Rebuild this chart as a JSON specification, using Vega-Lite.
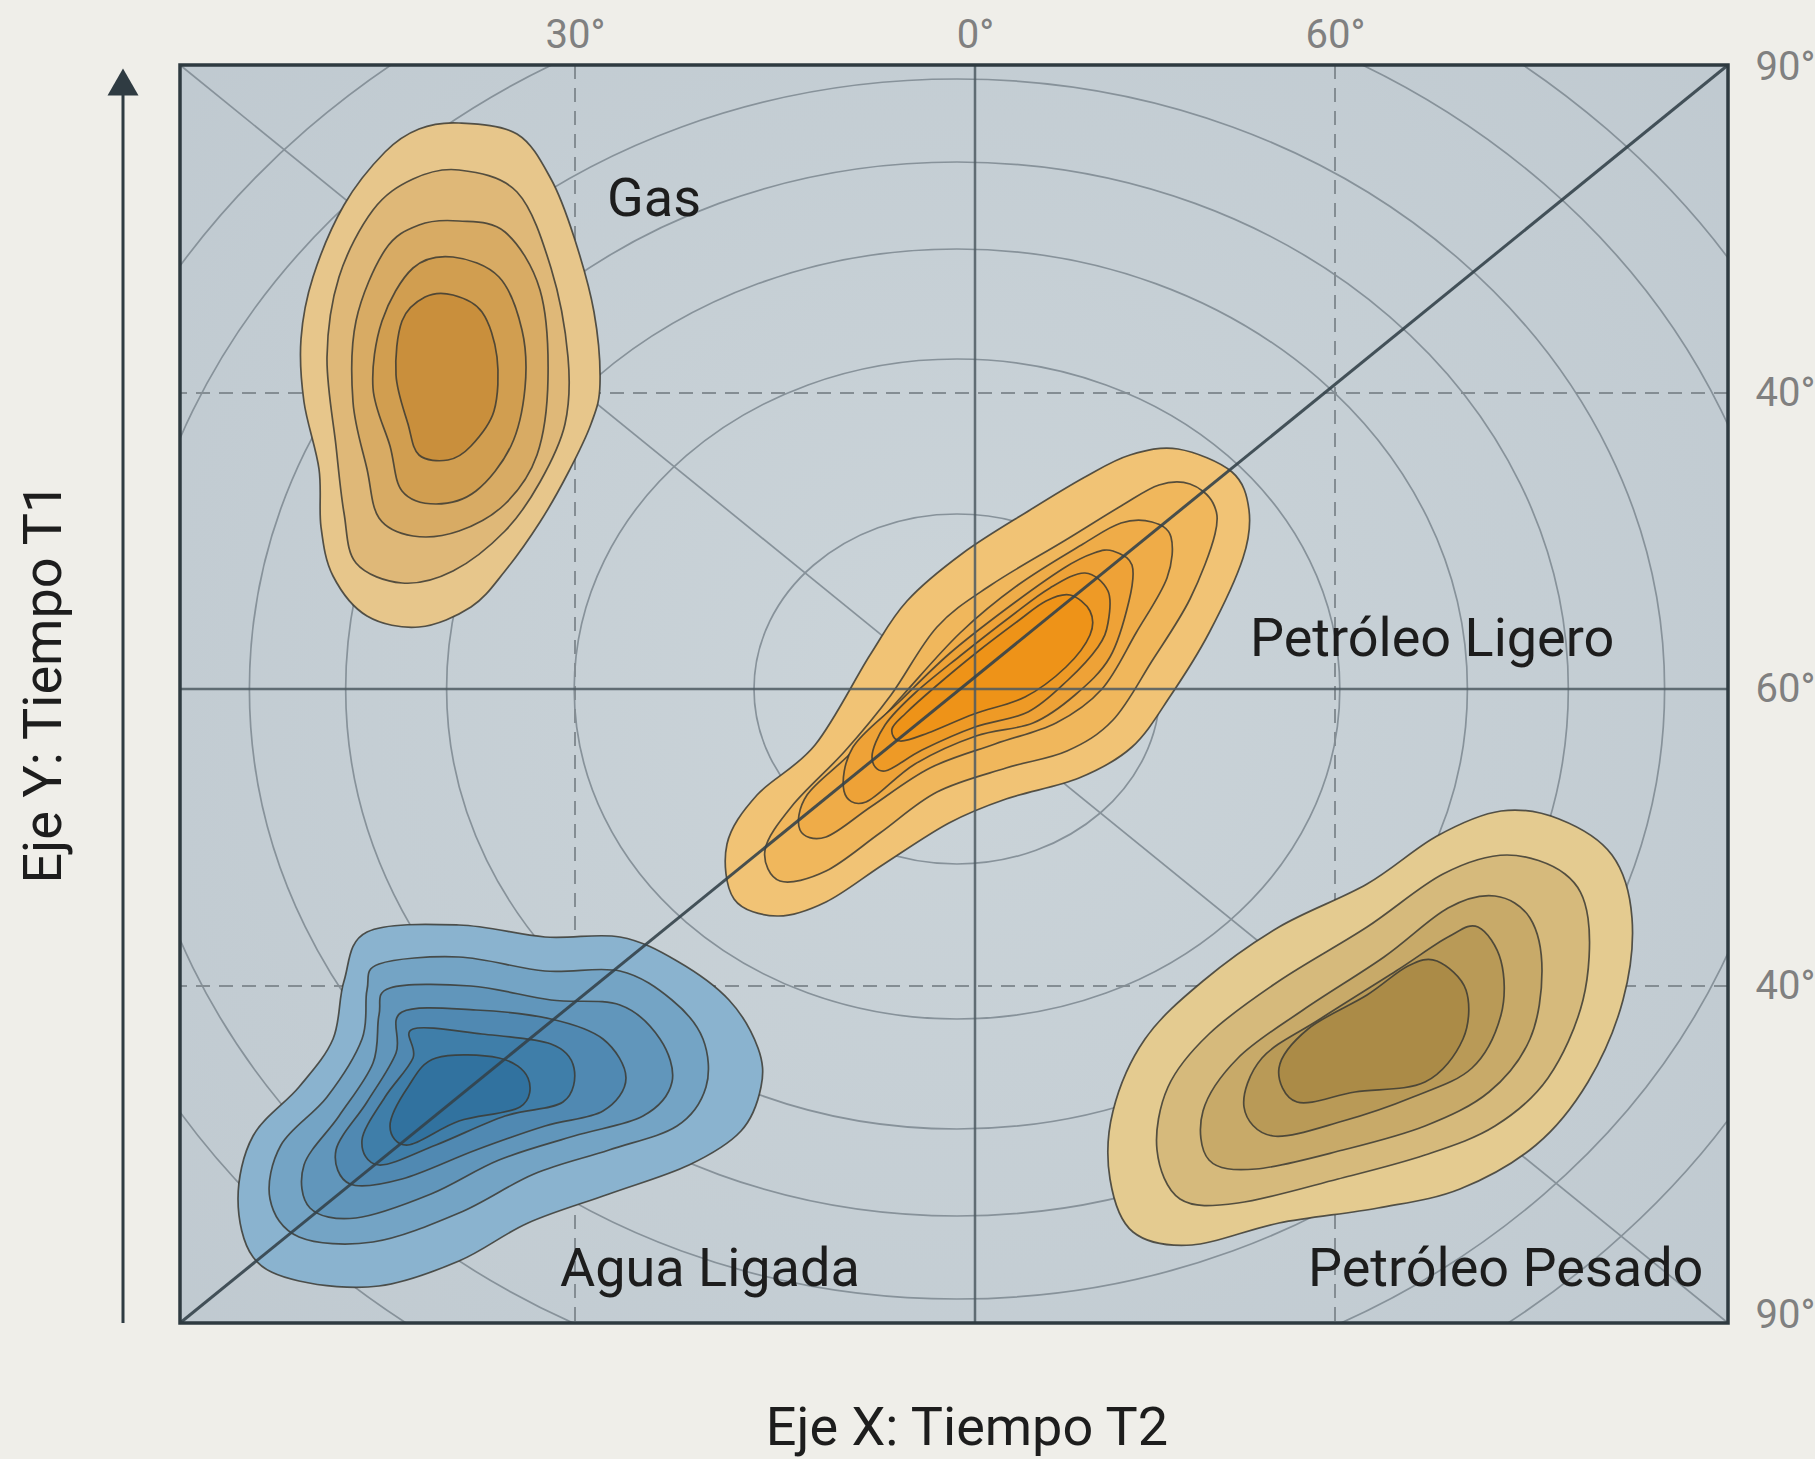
{
  "$schema": "https://vega.github.io/schema/vega-lite/v6.json",
  "width": 1548,
  "height": 1258,
  "autosize": {"type": "none"},
  "padding": {"left": 180, "top": 65, "right": 87, "bottom": 136},
  "background": "#efeee9",
  "config": {"view": {"stroke": null}, "font": "Roboto"},
  "datasets": {
    "elipses": [{"r": 175}, {"r": 330}, {"r": 440}, {"r": 527}, {"r": 610}, {"r": 715}, {"r": 792}],
    "contornos": [
      {"capa":"Gas 1","i":1,"x":279,"y":1200},{"capa":"Gas 1","i":2,"x":337,"y":1189},{"capa":"Gas 1","i":3,"x":371,"y":1144},{"capa":"Gas 1","i":4,"x":394,"y":1086},{"capa":"Gas 1","i":5,"x":414,"y":1011},{"capa":"Gas 1","i":6,"x":420,"y":939},{"capa":"Gas 1","i":7,"x":411,"y":899},{"capa":"Gas 1","i":8,"x":388,"y":850},{"capa":"Gas 1","i":9,"x":360,"y":801},{"capa":"Gas 1","i":10,"x":325,"y":752},{"capa":"Gas 1","i":11,"x":291,"y":716},{"capa":"Gas 1","i":12,"x":239,"y":696},{"capa":"Gas 1","i":13,"x":187,"y":707},{"capa":"Gas 1","i":14,"x":153,"y":747},{"capa":"Gas 1","i":15,"x":141,"y":796},{"capa":"Gas 1","i":16,"x":139,"y":854},{"capa":"Gas 1","i":17,"x":124,"y":921},{"capa":"Gas 1","i":18,"x":121,"y":984},{"capa":"Gas 1","i":19,"x":133,"y":1046},{"capa":"Gas 1","i":20,"x":164,"y":1118},{"capa":"Gas 1","i":21,"x":205,"y":1171},{"capa":"Gas 1","i":22,"x":239,"y":1194},
      {"capa":"Gas 2","i":1,"x":279,"y":1153},{"capa":"Gas 2","i":2,"x":337,"y":1131},{"capa":"Gas 2","i":3,"x":371,"y":1055},{"capa":"Gas 2","i":4,"x":388,"y":966},{"capa":"Gas 2","i":5,"x":385,"y":899},{"capa":"Gas 2","i":6,"x":360,"y":841},{"capa":"Gas 2","i":7,"x":325,"y":792},{"capa":"Gas 2","i":8,"x":273,"y":752},{"capa":"Gas 2","i":9,"x":222,"y":740},{"capa":"Gas 2","i":10,"x":176,"y":760},{"capa":"Gas 2","i":11,"x":164,"y":810},{"capa":"Gas 2","i":12,"x":156,"y":877},{"capa":"Gas 2","i":13,"x":147,"y":966},{"capa":"Gas 2","i":14,"x":159,"y":1046},{"capa":"Gas 2","i":15,"x":193,"y":1113},{"capa":"Gas 2","i":16,"x":233,"y":1144},
      {"capa":"Gas 3","i":1,"x":279,"y":1102},{"capa":"Gas 3","i":2,"x":325,"y":1091},{"capa":"Gas 3","i":3,"x":360,"y":1033},{"capa":"Gas 3","i":4,"x":368,"y":944},{"capa":"Gas 3","i":5,"x":357,"y":868},{"capa":"Gas 3","i":6,"x":325,"y":819},{"capa":"Gas 3","i":7,"x":279,"y":792},{"capa":"Gas 3","i":8,"x":233,"y":787},{"capa":"Gas 3","i":9,"x":199,"y":805},{"capa":"Gas 3","i":10,"x":187,"y":854},{"capa":"Gas 3","i":11,"x":173,"y":921},{"capa":"Gas 3","i":12,"x":176,"y":1002},{"capa":"Gas 3","i":13,"x":205,"y":1073},{"capa":"Gas 3","i":14,"x":239,"y":1098},
      {"capa":"Gas 4","i":1,"x":273,"y":1066},{"capa":"Gas 4","i":2,"x":319,"y":1046},{"capa":"Gas 4","i":3,"x":342,"y":993},{"capa":"Gas 4","i":4,"x":345,"y":935},{"capa":"Gas 4","i":5,"x":331,"y":877},{"capa":"Gas 4","i":6,"x":296,"y":832},{"capa":"Gas 4","i":7,"x":256,"y":819},{"capa":"Gas 4","i":8,"x":222,"y":832},{"capa":"Gas 4","i":9,"x":210,"y":877},{"capa":"Gas 4","i":10,"x":193,"y":935},{"capa":"Gas 4","i":11,"x":202,"y":1002},{"capa":"Gas 4","i":12,"x":233,"y":1055},
      {"capa":"Gas 5","i":1,"x":273,"y":1028},{"capa":"Gas 5","i":2,"x":302,"y":1011},{"capa":"Gas 5","i":3,"x":317,"y":966},{"capa":"Gas 5","i":4,"x":314,"y":912},{"capa":"Gas 5","i":5,"x":291,"y":877},{"capa":"Gas 5","i":6,"x":268,"y":863},{"capa":"Gas 5","i":7,"x":239,"y":868},{"capa":"Gas 5","i":8,"x":228,"y":899},{"capa":"Gas 5","i":9,"x":216,"y":948},{"capa":"Gas 5","i":10,"x":222,"y":1002},{"capa":"Gas 5","i":11,"x":245,"y":1026},
      {"capa":"Ligero 1","i":1,"x":998,"y":874},{"capa":"Ligero 1","i":2,"x":1052,"y":851},{"capa":"Ligero 1","i":3,"x":1069,"y":813},{"capa":"Ligero 1","i":4,"x":1063,"y":765},{"capa":"Ligero 1","i":5,"x":1029,"y":690},{"capa":"Ligero 1","i":6,"x":991,"y":628},{"capa":"Ligero 1","i":7,"x":952,"y":576},{"capa":"Ligero 1","i":8,"x":899,"y":545},{"capa":"Ligero 1","i":9,"x":826,"y":524},{"capa":"Ligero 1","i":10,"x":769,"y":500},{"capa":"Ligero 1","i":11,"x":704,"y":459},{"capa":"Ligero 1","i":12,"x":646,"y":421},{"capa":"Ligero 1","i":13,"x":597,"y":407},{"capa":"Ligero 1","i":14,"x":554,"y":424},{"capa":"Ligero 1","i":15,"x":547,"y":479},{"capa":"Ligero 1","i":16,"x":577,"y":528},{"capa":"Ligero 1","i":17,"x":635,"y":578},{"capa":"Ligero 1","i":18,"x":690,"y":668},{"capa":"Ligero 1","i":19,"x":727,"y":722},{"capa":"Ligero 1","i":20,"x":783,"y":770},{"capa":"Ligero 1","i":21,"x":850,"y":813},{"capa":"Ligero 1","i":22,"x":905,"y":846},{"capa":"Ligero 1","i":23,"x":950,"y":868},
      {"capa":"Ligero 2","i":1,"x":1010,"y":839},{"capa":"Ligero 2","i":2,"x":1033,"y":820},{"capa":"Ligero 2","i":3,"x":1035,"y":789},{"capa":"Ligero 2","i":4,"x":1010,"y":724},{"capa":"Ligero 2","i":5,"x":972,"y":662},{"capa":"Ligero 2","i":6,"x":933,"y":603},{"capa":"Ligero 2","i":7,"x":887,"y":572},{"capa":"Ligero 2","i":8,"x":826,"y":555},{"capa":"Ligero 2","i":9,"x":757,"y":531},{"capa":"Ligero 2","i":10,"x":700,"y":490},{"capa":"Ligero 2","i":11,"x":646,"y":452},{"capa":"Ligero 2","i":12,"x":600,"y":442},{"capa":"Ligero 2","i":13,"x":585,"y":473},{"capa":"Ligero 2","i":14,"x":612,"y":517},{"capa":"Ligero 2","i":15,"x":665,"y":572},{"capa":"Ligero 2","i":16,"x":711,"y":628},{"capa":"Ligero 2","i":17,"x":757,"y":696},{"capa":"Ligero 2","i":18,"x":811,"y":738},{"capa":"Ligero 2","i":19,"x":884,"y":782},{"capa":"Ligero 2","i":20,"x":941,"y":817},{"capa":"Ligero 2","i":21,"x":979,"y":838},
      {"capa":"Ligero 3","i":1,"x":972,"y":801},{"capa":"Ligero 3","i":2,"x":991,"y":786},{"capa":"Ligero 3","i":3,"x":987,"y":745},{"capa":"Ligero 3","i":4,"x":956,"y":690},{"capa":"Ligero 3","i":5,"x":922,"y":634},{"capa":"Ligero 3","i":6,"x":876,"y":600},{"capa":"Ligero 3","i":7,"x":815,"y":579},{"capa":"Ligero 3","i":8,"x":750,"y":555},{"capa":"Ligero 3","i":9,"x":692,"y":517},{"capa":"Ligero 3","i":10,"x":646,"y":486},{"capa":"Ligero 3","i":11,"x":620,"y":493},{"capa":"Ligero 3","i":12,"x":627,"y":528},{"capa":"Ligero 3","i":13,"x":673,"y":572},{"capa":"Ligero 3","i":14,"x":723,"y":628},{"capa":"Ligero 3","i":15,"x":780,"y":690},{"capa":"Ligero 3","i":16,"x":838,"y":738},{"capa":"Ligero 3","i":17,"x":903,"y":779},{"capa":"Ligero 3","i":18,"x":941,"y":800},
      {"capa":"Ligero 4","i":1,"x":933,"y":772},{"capa":"Ligero 4","i":2,"x":952,"y":758},{"capa":"Ligero 4","i":3,"x":949,"y":722},{"capa":"Ligero 4","i":4,"x":930,"y":666},{"capa":"Ligero 4","i":5,"x":895,"y":628},{"capa":"Ligero 4","i":6,"x":853,"y":600},{"capa":"Ligero 4","i":7,"x":796,"y":587},{"capa":"Ligero 4","i":8,"x":735,"y":559},{"capa":"Ligero 4","i":9,"x":686,"y":521},{"capa":"Ligero 4","i":10,"x":664,"y":532},{"capa":"Ligero 4","i":11,"x":673,"y":576},{"capa":"Ligero 4","i":12,"x":719,"y":621},{"capa":"Ligero 4","i":13,"x":769,"y":669},{"capa":"Ligero 4","i":14,"x":826,"y":714},{"capa":"Ligero 4","i":15,"x":884,"y":755},{"capa":"Ligero 4","i":16,"x":914,"y":770},
      {"capa":"Ligero 5","i":1,"x":905,"y":750},{"capa":"Ligero 5","i":2,"x":928,"y":732},{"capa":"Ligero 5","i":3,"x":928,"y":700},{"capa":"Ligero 5","i":4,"x":918,"y":676},{"capa":"Ligero 5","i":5,"x":888,"y":643},{"capa":"Ligero 5","i":6,"x":848,"y":611},{"capa":"Ligero 5","i":7,"x":795,"y":596},{"capa":"Ligero 5","i":8,"x":742,"y":573},{"capa":"Ligero 5","i":9,"x":705,"y":552},{"capa":"Ligero 5","i":10,"x":692,"y":566},{"capa":"Ligero 5","i":11,"x":705,"y":598},{"capa":"Ligero 5","i":12,"x":735,"y":630},{"capa":"Ligero 5","i":13,"x":780,"y":667},{"capa":"Ligero 5","i":14,"x":830,"y":706},{"capa":"Ligero 5","i":15,"x":870,"y":735},
      {"capa":"Ligero 6","i":1,"x":890,"y":728},{"capa":"Ligero 6","i":2,"x":910,"y":712},{"capa":"Ligero 6","i":3,"x":910,"y":688},{"capa":"Ligero 6","i":4,"x":886,"y":656},{"capa":"Ligero 6","i":5,"x":845,"y":626},{"capa":"Ligero 6","i":6,"x":794,"y":609},{"capa":"Ligero 6","i":7,"x":748,"y":590},{"capa":"Ligero 6","i":8,"x":720,"y":582},{"capa":"Ligero 6","i":9,"x":712,"y":594},{"capa":"Ligero 6","i":10,"x":726,"y":610},{"capa":"Ligero 6","i":11,"x":755,"y":636},{"capa":"Ligero 6","i":12,"x":796,"y":670},{"capa":"Ligero 6","i":13,"x":838,"y":702},{"capa":"Ligero 6","i":14,"x":866,"y":722},
      {"capa":"Agua 1","i":1,"x":187,"y":391},{"capa":"Agua 1","i":2,"x":279,"y":398},{"capa":"Agua 1","i":3,"x":365,"y":386},{"capa":"Agua 1","i":4,"x":440,"y":386},{"capa":"Agua 1","i":5,"x":497,"y":362},{"capa":"Agua 1","i":6,"x":549,"y":323},{"capa":"Agua 1","i":7,"x":578,"y":275},{"capa":"Agua 1","i":8,"x":581,"y":236},{"capa":"Agua 1","i":9,"x":561,"y":192},{"capa":"Agua 1","i":10,"x":509,"y":158},{"capa":"Agua 1","i":11,"x":429,"y":129},{"capa":"Agua 1","i":12,"x":348,"y":100},{"capa":"Agua 1","i":13,"x":279,"y":62},{"capa":"Agua 1","i":14,"x":199,"y":37},{"capa":"Agua 1","i":15,"x":119,"y":42},{"capa":"Agua 1","i":16,"x":73,"y":66},{"capa":"Agua 1","i":17,"x":58,"y":124},{"capa":"Agua 1","i":18,"x":73,"y":187},{"capa":"Agua 1","i":19,"x":119,"y":236},{"capa":"Agua 1","i":20,"x":153,"y":284},{"capa":"Agua 1","i":21,"x":164,"y":342},
      {"capa":"Agua 2","i":1,"x":199,"y":359},{"capa":"Agua 2","i":2,"x":279,"y":366},{"capa":"Agua 2","i":3,"x":365,"y":352},{"capa":"Agua 2","i":4,"x":440,"y":352},{"capa":"Agua 2","i":5,"x":492,"y":323},{"capa":"Agua 2","i":6,"x":523,"y":284},{"capa":"Agua 2","i":7,"x":526,"y":236},{"capa":"Agua 2","i":8,"x":497,"y":197},{"capa":"Agua 2","i":9,"x":429,"y":173},{"capa":"Agua 2","i":10,"x":354,"y":149},{"capa":"Agua 2","i":11,"x":279,"y":110},{"capa":"Agua 2","i":12,"x":193,"y":81},{"capa":"Agua 2","i":13,"x":119,"y":86},{"capa":"Agua 2","i":14,"x":90,"y":124},{"capa":"Agua 2","i":15,"x":101,"y":178},{"capa":"Agua 2","i":16,"x":147,"y":226},{"capa":"Agua 2","i":17,"x":182,"y":284},{"capa":"Agua 2","i":18,"x":187,"y":333},
      {"capa":"Agua 3","i":1,"x":210,"y":335},{"capa":"Agua 3","i":2,"x":291,"y":337},{"capa":"Agua 3","i":3,"x":371,"y":323},{"capa":"Agua 3","i":4,"x":440,"y":318},{"capa":"Agua 3","i":5,"x":480,"y":284},{"capa":"Agua 3","i":6,"x":492,"y":241},{"capa":"Agua 3","i":7,"x":463,"y":207},{"capa":"Agua 3","i":8,"x":394,"y":187},{"capa":"Agua 3","i":9,"x":319,"y":163},{"capa":"Agua 3","i":10,"x":251,"y":129},{"capa":"Agua 3","i":11,"x":176,"y":105},{"capa":"Agua 3","i":12,"x":130,"y":115},{"capa":"Agua 3","i":13,"x":124,"y":158},{"capa":"Agua 3","i":14,"x":159,"y":207},{"capa":"Agua 3","i":15,"x":193,"y":260},{"capa":"Agua 3","i":16,"x":199,"y":308},
      {"capa":"Agua 4","i":1,"x":222,"y":311},{"capa":"Agua 4","i":2,"x":296,"y":313},{"capa":"Agua 4","i":3,"x":371,"y":304},{"capa":"Agua 4","i":4,"x":423,"y":284},{"capa":"Agua 4","i":5,"x":446,"y":245},{"capa":"Agua 4","i":6,"x":423,"y":212},{"capa":"Agua 4","i":7,"x":365,"y":197},{"capa":"Agua 4","i":8,"x":296,"y":173},{"capa":"Agua 4","i":9,"x":222,"y":144},{"capa":"Agua 4","i":10,"x":170,"y":139},{"capa":"Agua 4","i":11,"x":156,"y":173},{"capa":"Agua 4","i":12,"x":187,"y":221},{"capa":"Agua 4","i":13,"x":216,"y":270},
      {"capa":"Agua 5","i":1,"x":233,"y":294},{"capa":"Agua 5","i":2,"x":302,"y":289},{"capa":"Agua 5","i":3,"x":371,"y":279},{"capa":"Agua 5","i":4,"x":394,"y":255},{"capa":"Agua 5","i":5,"x":383,"y":221},{"capa":"Agua 5","i":6,"x":325,"y":207},{"capa":"Agua 5","i":7,"x":256,"y":178},{"capa":"Agua 5","i":8,"x":199,"y":158},{"capa":"Agua 5","i":9,"x":182,"y":183},{"capa":"Agua 5","i":10,"x":205,"y":226},{"capa":"Agua 5","i":11,"x":233,"y":265},
      {"capa":"Agua 6","i":1,"x":256,"y":265},{"capa":"Agua 6","i":2,"x":319,"y":265},{"capa":"Agua 6","i":3,"x":348,"y":245},{"capa":"Agua 6","i":4,"x":340,"y":216},{"capa":"Agua 6","i":5,"x":279,"y":202},{"capa":"Agua 6","i":6,"x":228,"y":178},{"capa":"Agua 6","i":7,"x":210,"y":197},{"capa":"Agua 6","i":8,"x":228,"y":236},
      {"capa":"Pesado 1","i":1,"x":1321,"y":512},{"capa":"Pesado 1","i":2,"x":1379,"y":504},{"capa":"Pesado 1","i":3,"x":1432,"y":468},{"capa":"Pesado 1","i":4,"x":1452,"y":405},{"capa":"Pesado 1","i":5,"x":1443,"y":323},{"capa":"Pesado 1","i":6,"x":1408,"y":241},{"capa":"Pesado 1","i":7,"x":1356,"y":178},{"capa":"Pesado 1","i":8,"x":1280,"y":134},{"capa":"Pesado 1","i":9,"x":1198,"y":115},{"capa":"Pesado 1","i":10,"x":1099,"y":100},{"capa":"Pesado 1","i":11,"x":1012,"y":78},{"capa":"Pesado 1","i":12,"x":953,"y":91},{"capa":"Pesado 1","i":13,"x":930,"y":144},{"capa":"Pesado 1","i":14,"x":933,"y":212},{"capa":"Pesado 1","i":15,"x":965,"y":284},{"capa":"Pesado 1","i":16,"x":1023,"y":342},{"capa":"Pesado 1","i":17,"x":1099,"y":396},{"capa":"Pesado 1","i":18,"x":1187,"y":439},{"capa":"Pesado 1","i":19,"x":1257,"y":487},
      {"capa":"Pesado 2","i":1,"x":1327,"y":468},{"capa":"Pesado 2","i":2,"x":1385,"y":449},{"capa":"Pesado 2","i":3,"x":1408,"y":405},{"capa":"Pesado 2","i":4,"x":1403,"y":323},{"capa":"Pesado 2","i":5,"x":1368,"y":245},{"capa":"Pesado 2","i":6,"x":1315,"y":197},{"capa":"Pesado 2","i":7,"x":1245,"y":168},{"capa":"Pesado 2","i":8,"x":1158,"y":144},{"capa":"Pesado 2","i":9,"x":1058,"y":120},{"capa":"Pesado 2","i":10,"x":1000,"y":124},{"capa":"Pesado 2","i":11,"x":977,"y":173},{"capa":"Pesado 2","i":12,"x":988,"y":236},{"capa":"Pesado 2","i":13,"x":1029,"y":289},{"capa":"Pesado 2","i":14,"x":1099,"y":342},{"capa":"Pesado 2","i":15,"x":1187,"y":396},{"capa":"Pesado 2","i":16,"x":1263,"y":449},
      {"capa":"Pesado 3","i":1,"x":1315,"y":427},{"capa":"Pesado 3","i":2,"x":1350,"y":405},{"capa":"Pesado 3","i":3,"x":1362,"y":352},{"capa":"Pesado 3","i":4,"x":1350,"y":284},{"capa":"Pesado 3","i":5,"x":1309,"y":231},{"capa":"Pesado 3","i":6,"x":1245,"y":197},{"capa":"Pesado 3","i":7,"x":1163,"y":173},{"capa":"Pesado 3","i":8,"x":1076,"y":154},{"capa":"Pesado 3","i":9,"x":1029,"y":163},{"capa":"Pesado 3","i":10,"x":1023,"y":212},{"capa":"Pesado 3","i":11,"x":1058,"y":265},{"capa":"Pesado 3","i":12,"x":1123,"y":313},{"capa":"Pesado 3","i":13,"x":1204,"y":366},{"capa":"Pesado 3","i":14,"x":1268,"y":415},
      {"capa":"Pesado 4","i":1,"x":1298,"y":396},{"capa":"Pesado 4","i":2,"x":1321,"y":362},{"capa":"Pesado 4","i":3,"x":1321,"y":308},{"capa":"Pesado 4","i":4,"x":1292,"y":255},{"capa":"Pesado 4","i":5,"x":1233,"y":226},{"capa":"Pesado 4","i":6,"x":1163,"y":202},{"capa":"Pesado 4","i":7,"x":1093,"y":187},{"capa":"Pesado 4","i":8,"x":1064,"y":216},{"capa":"Pesado 4","i":9,"x":1082,"y":265},{"capa":"Pesado 4","i":10,"x":1140,"y":304},{"capa":"Pesado 4","i":11,"x":1216,"y":352},{"capa":"Pesado 4","i":12,"x":1268,"y":386},
      {"capa":"Pesado 5","i":1,"x":1257,"y":362},{"capa":"Pesado 5","i":2,"x":1286,"y":333},{"capa":"Pesado 5","i":3,"x":1283,"y":284},{"capa":"Pesado 5","i":4,"x":1245,"y":241},{"capa":"Pesado 5","i":5,"x":1175,"y":231},{"capa":"Pesado 5","i":6,"x":1117,"y":221},{"capa":"Pesado 5","i":7,"x":1099,"y":255},{"capa":"Pesado 5","i":8,"x":1128,"y":294},{"capa":"Pesado 5","i":9,"x":1187,"y":328},{"capa":"Pesado 5","i":10,"x":1228,"y":357}
    ]
  },
  "layer": [
    {
      "data": {"values": [{}]},
      "mark": {"type": "rect", "fill": {"gradient": "radial", "x1": 0.5, "y1": 0.5, "r1": 0, "x2": 0.5, "y2": 0.5, "r2": 0.75, "stops": [{"offset": 0, "color": "#cbd4d9"}, {"offset": 1, "color": "#bec8cf"}]}},
      "encoding": {
        "x": {"datum": 0, "type": "quantitative", "title": null, "scale": {"domain": [0, 1548], "nice": false, "zero": false},
              "axis": {"orient": "top", "values": [395, 795, 1155], "labelExpr": "datum.value == 395 ? '30°' : datum.value == 795 ? '0°' : '60°'", "ticks": false, "domain": false, "grid": false, "labelFontSize": 40, "labelColor": "#808080", "labelFont": "Roboto", "labelPadding": 10, "labelFlush": false, "labelOverlap": false, "title": null}},
        "x2": {"datum": 1548},
        "y": {"datum": 0, "type": "quantitative", "title": null, "scale": {"domain": [0, 1258], "nice": false, "zero": false},
              "axis": {"orient": "right", "values": [1256, 930, 634, 337, 8], "labelExpr": "datum.value == 634 ? '60°' : (datum.value == 930 || datum.value == 337) ? '40°' : '90°'", "ticks": false, "domain": false, "grid": false, "labelFontSize": 40, "labelColor": "#808080", "labelFont": "Roboto", "labelPadding": 27, "labelBaseline": "middle", "labelFlush": false, "labelOverlap": false, "title": null}},
        "y2": {"datum": 1258}
      }
    },
    {
      "data": {"name": "elipses"},
      "mark": {"type": "point", "shape": "M1.16,0C1.16,0.5523,0.6407,1,0,1C-0.6407,1,-1.16,0.5523,-1.16,0C-1.16,-0.5523,-0.6407,-1,0,-1C0.6407,-1,1.16,-0.5523,1.16,0Z", "filled": false, "stroke": "#87929a", "strokeWidth": 1.7, "opacity": 1, "clip": true},
      "encoding": {
        "x": {"datum": 777, "type": "quantitative", "title": null, "scale": {"domain": [0, 1548], "nice": false, "zero": false}},
        "y": {"datum": 634, "type": "quantitative", "title": null, "scale": {"domain": [0, 1258], "nice": false, "zero": false}},
        "size": {"field": "r", "type": "quantitative", "scale": {"type": "pow", "exponent": 2, "domain": [0, 1000], "range": [0, 4000000]}, "legend": null}
      }
    },
    {
      "data": {"values": [{}]},
      "mark": {"type": "rule", "stroke": "#87929a", "strokeWidth": 1.7},
      "encoding": {
        "x": {"datum": 0, "type": "quantitative", "title": null, "scale": {"domain": [0, 1548], "nice": false, "zero": false}},
        "x2": {"datum": 1548},
        "y": {"datum": 1258, "type": "quantitative", "title": null, "scale": {"domain": [0, 1258], "nice": false, "zero": false}},
        "y2": {"datum": 0}
      }
    },
    {
      "data": {"values": [{"v": 395}, {"v": 1155}]},
      "mark": {"type": "rule", "stroke": "#848d93", "strokeWidth": 2, "strokeDash": [14, 9]},
      "encoding": {
        "x": {"field": "v", "type": "quantitative", "title": null, "scale": {"domain": [0, 1548], "nice": false, "zero": false}}
      }
    },
    {
      "data": {"values": [{"v": 930}, {"v": 337}]},
      "mark": {"type": "rule", "stroke": "#848d93", "strokeWidth": 2, "strokeDash": [14, 9]},
      "encoding": {
        "y": {"field": "v", "type": "quantitative", "title": null, "scale": {"domain": [0, 1258], "nice": false, "zero": false}}
      }
    },
    {
      "data": {"name": "contornos"},
      "mark": {"type": "line", "interpolate": "cardinal-closed", "stroke": "#3b3a33", "strokeWidth": 1.7, "strokeOpacity": 0.85},
      "encoding": {
        "x": {"field": "x", "type": "quantitative", "title": null, "scale": {"domain": [0, 1548], "nice": false, "zero": false}},
        "y": {"field": "y", "type": "quantitative", "title": null, "scale": {"domain": [0, 1258], "nice": false, "zero": false}},
        "fill": {"field": "capa", "type": "nominal", "legend": null, "scale": {
          "domain": ["Gas 1","Gas 2","Gas 3","Gas 4","Gas 5","Ligero 1","Ligero 2","Ligero 3","Ligero 4","Ligero 5","Ligero 6","Agua 1","Agua 2","Agua 3","Agua 4","Agua 5","Agua 6","Pesado 1","Pesado 2","Pesado 3","Pesado 4","Pesado 5"],
          "range": ["#e7c68b","#dfb878","#d8ab64","#d19e50","#c98f3c","#f1c375","#f0b75c","#efac48","#eea237","#ee9a26","#ee9318","#8ab3cf","#74a4c5","#6196bb","#5089b2","#3f7ea9","#31729f","#e4cb90","#d6ba7c","#c8aa69","#b99a57","#ab8b47"]}},
        "order": {"field": "i", "type": "quantitative"}
      }
    },
    {
      "data": {"values": [{}]},
      "mark": {"type": "rule", "stroke": "#4e5a61", "strokeWidth": 2.5, "opacity": 0.85},
      "encoding": {
        "x": {"datum": 795, "type": "quantitative", "title": null, "scale": {"domain": [0, 1548], "nice": false, "zero": false}}
      }
    },
    {
      "data": {"values": [{}]},
      "mark": {"type": "rule", "stroke": "#4e5a61", "strokeWidth": 2.5, "opacity": 0.85},
      "encoding": {
        "y": {"datum": 634, "type": "quantitative", "title": null, "scale": {"domain": [0, 1258], "nice": false, "zero": false}}
      }
    },
    {
      "data": {"values": [{}]},
      "mark": {"type": "rule", "stroke": "#34424a", "strokeWidth": 3, "opacity": 0.9},
      "encoding": {
        "x": {"datum": 0, "type": "quantitative", "title": null, "scale": {"domain": [0, 1548], "nice": false, "zero": false}},
        "x2": {"datum": 1548},
        "y": {"datum": 0, "type": "quantitative", "title": null, "scale": {"domain": [0, 1258], "nice": false, "zero": false}},
        "y2": {"datum": 1258}
      }
    },
    {
      "data": {"values": [
        {"t": "Gas", "x": 427, "y": 1107},
        {"t": "Petróleo Ligero", "x": 1070, "y": 667},
        {"t": "Agua Ligada", "x": 380, "y": 37},
        {"t": "Petróleo Pesado", "x": 1128, "y": 37}
      ]},
      "mark": {"type": "text", "align": "left", "baseline": "alphabetic", "fontSize": 54, "font": "Roboto", "color": "#1d1d1d"},
      "encoding": {
        "x": {"field": "x", "type": "quantitative", "title": null, "scale": {"domain": [0, 1548], "nice": false, "zero": false}},
        "y": {"field": "y", "type": "quantitative", "title": null, "scale": {"domain": [0, 1258], "nice": false, "zero": false}},
        "text": {"field": "t"}
      }
    },
    {
      "data": {"values": [{"t": "Eje X: Tiempo T2"}]},
      "mark": {"type": "text", "align": "center", "baseline": "alphabetic", "fontSize": 54, "font": "Roboto", "color": "#1d1d1d"},
      "encoding": {
        "x": {"datum": 787, "type": "quantitative", "title": null, "scale": {"domain": [0, 1548], "nice": false, "zero": false}},
        "y": {"datum": -122, "type": "quantitative", "title": null, "scale": {"domain": [0, 1258], "nice": false, "zero": false}},
        "text": {"field": "t"}
      }
    },
    {
      "data": {"values": [{"t": "Eje Y: Tiempo T1"}]},
      "mark": {"type": "text", "align": "center", "baseline": "alphabetic", "angle": 270, "fontSize": 54, "font": "Roboto", "color": "#1d1d1d"},
      "encoding": {
        "x": {"datum": -119, "type": "quantitative", "title": null, "scale": {"domain": [0, 1548], "nice": false, "zero": false}},
        "y": {"datum": 640, "type": "quantitative", "title": null, "scale": {"domain": [0, 1258], "nice": false, "zero": false}},
        "text": {"field": "t"}
      }
    },
    {
      "data": {"values": [{}]},
      "mark": {"type": "rule", "stroke": "#2f3b42", "strokeWidth": 3},
      "encoding": {
        "x": {"datum": -57, "type": "quantitative", "title": null, "scale": {"domain": [0, 1548], "nice": false, "zero": false}},
        "y": {"datum": 0, "type": "quantitative", "title": null, "scale": {"domain": [0, 1258], "nice": false, "zero": false}},
        "y2": {"datum": 1230}
      }
    },
    {
      "data": {"values": [{}]},
      "mark": {"type": "point", "shape": "triangle-up", "size": 961, "filled": true, "color": "#2f3b42", "opacity": 1},
      "encoding": {
        "x": {"datum": -57, "type": "quantitative", "title": null, "scale": {"domain": [0, 1548], "nice": false, "zero": false}},
        "y": {"datum": 1241, "type": "quantitative", "title": null, "scale": {"domain": [0, 1258], "nice": false, "zero": false}}
      }
    },
    {
      "data": {"values": [{}]},
      "mark": {"type": "rect", "filled": false, "stroke": "#2e3a40", "strokeWidth": 3.5},
      "encoding": {
        "x": {"datum": 0, "type": "quantitative", "title": null, "scale": {"domain": [0, 1548], "nice": false, "zero": false}},
        "x2": {"datum": 1548},
        "y": {"datum": 0, "type": "quantitative", "title": null, "scale": {"domain": [0, 1258], "nice": false, "zero": false}},
        "y2": {"datum": 1258}
      }
    }
  ]
}
